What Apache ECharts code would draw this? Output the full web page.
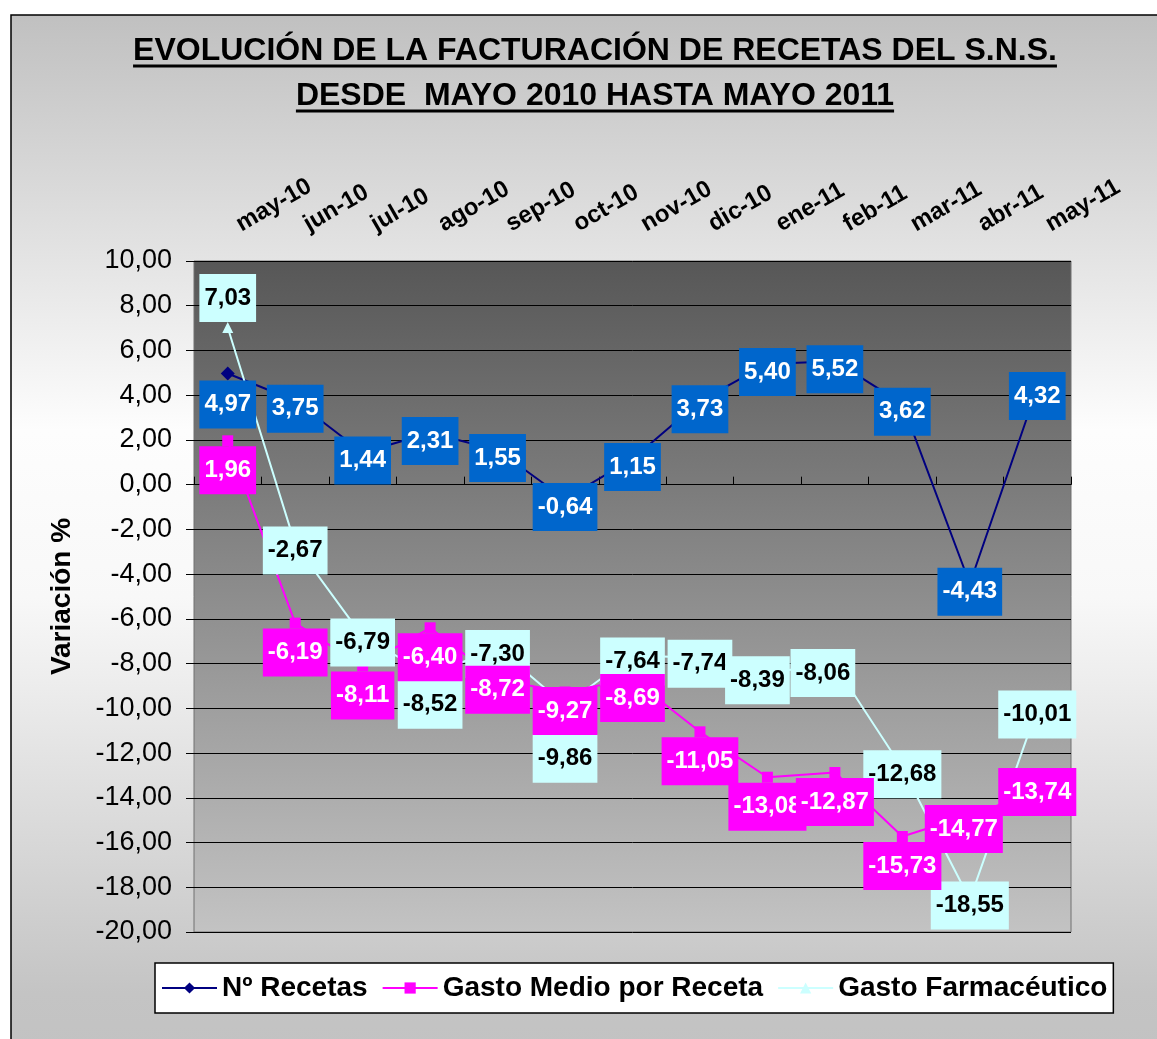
<!DOCTYPE html>
<html>
<head>
<meta charset="utf-8">
<script src="https://cdn.jsdelivr.net/npm/echarts@6/dist/echarts.min.js"></script>
<style>
html, body { margin: 0; padding: 0; background: #fff; }
#chart { width: 1157px; height: 1039px; }
</style>
</head>
<body>
<div id="chart"></div>
<script>
var months = ['may-10', 'jun-10', 'jul-10', 'ago-10', 'sep-10', 'oct-10', 'nov-10', 'dic-10', 'ene-11', 'feb-11', 'mar-11', 'abr-11', 'may-11'];
var recetas = [4.97, 3.75, 1.44, 2.31, 1.55, -0.64, 1.15, 3.73, 5.40, 5.52, 3.62, -4.43, 4.32];
var gastoMedio = [1.96, -6.19, -8.11, -6.40, -8.72, -9.27, -8.69, -11.05, -13.08, -12.87, -15.73, -14.77, -13.74];
var gastoFarm = [7.03, -2.67, -6.79, -8.52, -7.30, -9.86, -7.64, -7.74, -8.39, -8.06, -12.68, -18.55, -10.01];

var titleLines = ['EVOLUCIÓN DE LA FACTURACIÓN DE RECETAS DEL S.N.S.', 'DESDE  MAYO 2010 HASTA MAYO 2011'];
var names = ['Nº Recetas', 'Gasto Medio por Receta', 'Gasto Farmacéutico'];

// where Excel put some of the labels: [position, nudge x, nudge y]
var recetasLabelPos = { 0: ['bottom', 0, 0] };
var medioLabelPos = { 4: ['inside', 0, 10], 5: ['inside', 0, 19], 6: ['inside', 0, 19], 11: ['inside', -6, 14], 12: ['inside', 0, 0] };
var farmLabelPos = { 0: ['top', 0, 0], 3: ['bottom', 0, 0], 5: ['bottom', 0, 24], 8: ['inside', -10, 8], 9: ['inside', -12, 8] };

var FONT = '"Liberation Sans", Arial, sans-serif';

function fmt(v) {
	return v.toFixed(2).replace('.', ',');
}

function withLabels(values, pos) {
	return values.map(function (v, i) {
		var p = pos[i];
		if (p) return { value: v, label: { position: p[0], offset: [p[1], p[2]] } };
		return v;
	});
}

function boxLabel(bg, fg, position, offset) {
	return {
		show: true,
		position: position,
		offset: offset,
		distance: 0,
		formatter: function (p) { return fmt(p.value); },
		backgroundColor: bg,
		color: fg,
		fontFamily: FONT,
		fontWeight: 'bold',
		fontSize: 24,
		lineHeight: 24,
		padding: [12, 5, 12, 5]
	};
}

// underline width for the title lines
var ctx = document.createElement('canvas').getContext('2d');
ctx.font = 'bold 32px "Liberation Sans"';
var titleX = 595;
var underlines = titleLines.map(function (t, i) {
	var w = ctx.measureText(t).width;
	return {
		type: 'line',
		z: 10,
		shape: { x1: titleX - w / 2, y1: 66 + i * 45, x2: titleX + w / 2, y2: 66 + i * 45 },
		style: { stroke: '#000', lineWidth: 3 }
	};
});

var chart = echarts.init(document.getElementById('chart'));
chart.setOption({
	animation: false,
	backgroundColor: '#fff',
	title: {
		text: titleLines.join('\n'),
		left: titleX - 5,
		top: 24,
		textAlign: 'center',
		textStyle: { fontFamily: FONT, fontWeight: 'bold', fontSize: 32, lineHeight: 45, color: '#000' }
	},
	graphic: [{
		type: 'rect',
		z: -10,
		shape: { x: 11, y: 15, width: 1160, height: 1040 },
		style: {
			fill: new echarts.graphic.LinearGradient(0, 0, 0, 1, [
				{ offset: 0, color: '#c0c0c0' },
				{ offset: 0.4, color: '#fdfdfd' },
				{ offset: 0.56, color: '#f8f8f8' },
				{ offset: 0.94, color: '#c4c4c4' },
				{ offset: 1, color: '#c2c2c2' }
			]),
			stroke: '#000',
			lineWidth: 1.5
		}
	}].concat(underlines),
	legend: {
		data: names,
		left: 155,
		top: 963,
		padding: [11, 6],
		itemGap: 14,
		itemWidth: 55,
		itemHeight: 14,
		backgroundColor: '#fff',
		borderColor: '#000',
		borderWidth: 1.5,
		textStyle: { fontFamily: FONT, fontWeight: 'bold', fontSize: 28, color: '#000' }
	},
	grid: {
		left: 194,
		top: 261,
		right: 86,
		bottom: 107,
		show: true,
		borderColor: '#707070',
		borderWidth: 1,
		backgroundColor: new echarts.graphic.LinearGradient(0, 0, 0, 1, [
			{ offset: 0, color: '#575757' },
			{ offset: 1, color: '#c3c3c3' }
		])
	},
	xAxis: {
		type: 'category',
		position: 'top',
		data: months,
		boundaryGap: true,
		axisLine: { show: true, lineStyle: { color: '#000', width: 1 } },
		axisTick: { show: true, length: 8, lineStyle: { color: '#000' } },
		axisLabel: {
			rotate: 30,
			margin: 29,
			interval: 0,
			padding: [0, 0, 0, 12],
			fontFamily: FONT,
			fontWeight: 'bold',
			fontSize: 24,
			color: '#000'
		},
		splitLine: { show: false }
	},
	yAxis: {
		type: 'value',
		min: -20,
		max: 10,
		interval: 2,
		name: 'Variación %',
		nameLocation: 'middle',
		nameRotate: 90,
		nameGap: 118,
		nameTextStyle: { fontFamily: FONT, fontWeight: 'bold', fontSize: 28, color: '#000' },
		axisLine: { show: false },
		axisTick: { show: true, length: 8, lineStyle: { color: '#000' } },
		axisLabel: {
			margin: 22,
			fontFamily: FONT,
			fontSize: 27,
			color: '#000',
			formatter: fmt
		},
		splitLine: { show: true, lineStyle: { color: '#000', width: 1 } }
	},
	series: [
		{
			name: names[0],
			type: 'line',
			data: withLabels(recetas, recetasLabelPos),
			color: '#000080',
			lineStyle: { color: '#000080', width: 2 },
			symbol: 'diamond',
			symbolSize: 14,
			itemStyle: { color: '#000080' },
			label: boxLabel('#0066cc', '#fff', 'inside', [0, 8])
		},
		{
			name: names[2],
			type: 'line',
			data: withLabels(gastoFarm, farmLabelPos),
			color: '#ccffff',
			lineStyle: { color: '#ccffff', width: 2 },
			symbol: 'triangle',
			symbolSize: 11,
			itemStyle: { color: '#ccffff' },
			label: boxLabel('#ccffff', '#000', 'inside', [0, 6])
		},
		{
			name: names[1],
			type: 'line',
			data: withLabels(gastoMedio, medioLabelPos),
			color: '#ff00ff',
			lineStyle: { color: '#ff00ff', width: 2 },
			symbol: 'rect',
			symbolSize: 11,
			itemStyle: { color: '#ff00ff' },
			label: boxLabel('#ff00ff', '#fff', 'bottom', [0, 0])
		}
	]
});
</script>
</body>
</html>
